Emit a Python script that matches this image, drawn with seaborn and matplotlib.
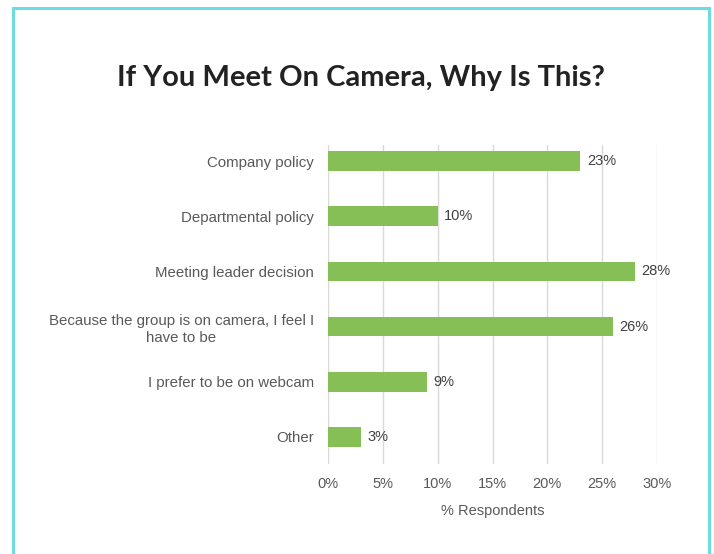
import matplotlib
matplotlib.use("Agg")
import matplotlib.pyplot as plt
from matplotlib.patches import Rectangle
import seaborn as sns
import pandas as pd

categories = [
    "Company policy",
    "Departmental policy",
    "Meeting leader decision",
    "Because the group is on camera, I feel I\nhave to be",
    "I prefer to be on webcam",
    "Other",
]
values = [23, 10, 28, 26, 9, 3]
x_ticks = [0, 5, 10, 15, 20, 25, 30]

df = pd.DataFrame({"reason": categories, "pct": values})

sns.set_theme(style="white")
plt.rcParams["font.family"] = ["Liberation Sans", "DejaVu Sans"]

fig = plt.figure(figsize=(7.14, 5.54), dpi=100)
ax = fig.add_axes([328 / 714, 1 - 464 / 554, 329 / 714, 319 / 554])

sns.barplot(data=df, x="pct", y="reason", orient="h", color="#85BF55",
            saturation=1, width=0.355, ax=ax, edgecolor="none")

ax.set_xlim(0, 30)
ax.set_ylim(5.49, -0.29)
ax.set_xticks(x_ticks)
ax.set_xticklabels([f"{t}%" for t in x_ticks], color="#595959", fontsize=10.5)
ax.tick_params(axis="x", length=0, pad=9)
ax.tick_params(axis="y", length=0, pad=10)
for lab in ax.get_yticklabels():
    lab.set_color("#595959")
    lab.set_fontsize(10.8)
    lab.set_multialignment("center")
    lab.set_linespacing(1.3)

ax.grid(axis="x", color="#d9d9d9", linewidth=1)
ax.set_axisbelow(True)
for s in ax.spines.values():
    s.set_visible(False)

ax.set_ylabel("")
ax.set_xlabel("% Respondents", color="#595959", fontsize=10.5, labelpad=10)

for i, v in enumerate(values):
    ax.text(v + 0.6, i, f"{v}%", va="center", ha="left", color="#404040", fontsize=10.5)

fig.text(0.505, 1 - 78 / 554, "If You Meet On Camera, Why Is This?",
         ha="center", va="center", fontsize=21, fontweight="bold",
         color="#222222", family=["Lato", "DejaVu Sans"])

fig.patches.append(Rectangle((13 / 714, -0.05), (709 - 13) / 714, 1 - 8 / 554 + 0.05,
                             transform=fig.transFigure, fill=False,
                             edgecolor="#6FDAE0", linewidth=2.2))

fig.savefig("out.png", dpi=100)
